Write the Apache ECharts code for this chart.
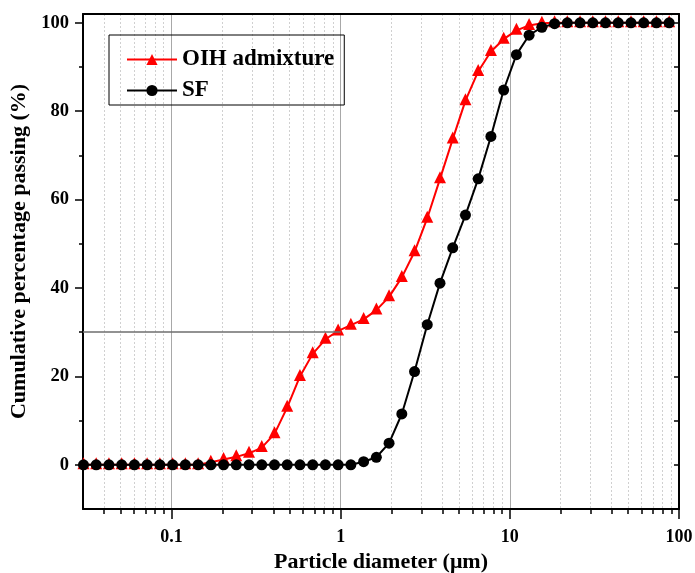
<!DOCTYPE html>
<html>
<head>
<meta charset="utf-8">
<script src="https://cdn.jsdelivr.net/npm/echarts@6/dist/echarts.min.js"></script>
<style>
  html, body { margin: 0; padding: 0; background: #fff; }
  #chart { width: 695px; height: 573px; }
</style>
</head>
<body>
<div id="chart"></div>
<script>
// Particle diameters (µm) of the size classes, quarter-octave spacing
const diameters = [
  0.0302, 0.0359, 0.0427, 0.0508, 0.0604, 0.0718, 0.0854,
  0.1016, 0.1208, 0.1437, 0.1709, 0.2032, 0.2416, 0.2874, 0.3417, 0.4064, 0.4833,
  0.5747, 0.6835, 0.8128, 0.9666, 1.149, 1.367, 1.626, 1.933, 2.299, 2.734,
  3.251, 3.866, 4.598, 5.468, 6.502, 7.733, 9.196, 10.94, 13.00, 15.47,
  18.39, 21.87, 26.01, 30.93, 36.78, 43.74, 52.02, 61.86, 73.56, 87.48
];

// Cumulative percentage passing for each diameter
const oihPassing = [
  0, 0, 0, 0, 0, 0, 0, 0, 0, 0,
  0.6, 1.2, 1.8, 2.6, 3.9, 7.0, 13.0,
  20.0, 25.1, 28.4, 30.3, 31.6, 32.9, 35.0, 38.0, 42.4, 48.2,
  55.8, 64.7, 73.7, 82.4, 89.0, 93.5, 96.3, 98.3, 99.4, 99.9,
  100, 100, 100, 100, 100, 100, 100, 100, 100, 100
];
const sfPassing = [
  0, 0, 0, 0, 0, 0, 0, 0, 0, 0, 0,
  0, 0, 0, 0, 0, 0, 0, 0, 0, 0, 0,
  0.7, 1.7, 4.9, 11.5, 21.1,
  31.7, 41.1, 49.1, 56.5, 64.7, 74.3, 84.8, 92.8, 97.2, 99.0,
  99.8, 100, 100, 100, 100, 100, 100, 100, 100, 100
];

const seriesNames = ['OIH admixture', 'SF'];

// Axis ranges and tick positions
const xMin = 0.03, xMax = 100;
const yMin = -10, yMax = 102;
const xMajorTicks = [0.1, 1, 10, 100];
const xMinorTicks = [
  0.04, 0.05, 0.06, 0.07, 0.08, 0.09,
  0.2, 0.3, 0.4, 0.5, 0.6, 0.7, 0.8, 0.9,
  2, 3, 4, 5, 6, 7, 8, 9,
  20, 30, 40, 50, 60, 70, 80, 90
];
const yMajorTicks = [0, 20, 40, 60, 80, 100];
const yMinorTicks = [10, 30, 50, 70, 90];
const yRightTicks = [0, 10, 20, 30, 40, 50, 60, 70, 80, 90, 100];

// D30 guide: 30 % passing reached at 1 µm
const guideLevel = 30, guideDiameter = 1;

const FONT = '"Liberation Serif", "Times New Roman", serif';
const boldText = (size) => ({ fontFamily: FONT, fontWeight: 'bold', fontSize: size, color: '#000' });

const pairs = (vals) => diameters.map((d, i) => [d, vals[i]]);

const chart = echarts.init(document.getElementById('chart'), null, { renderer: 'canvas' });

chart.setOption({
  animation: false,
  backgroundColor: '#fff',
  grid: { left: 83, right: 16, top: 14, bottom: 64, containLabel: false, outerBoundsMode: 'none' },
  legend: {
    data: seriesNames,
    orient: 'vertical',
    left: 109,
    top: 35,
    itemWidth: 50,
    itemHeight: 14,
    itemGap: 8,
    padding: [13, 10, 3, 17],
    borderColor: '#000',
    borderWidth: 1,
    textStyle: boldText(23)
  },
  xAxis: [
    {
      type: 'log', logBase: 10, min: xMin, max: xMax, position: 'bottom',
      name: 'Particle diameter (\u03bcm)',
      nameLocation: 'middle', nameGap: 42,
      nameTextStyle: boldText(22),
      axisLine: { show: true, onZero: false, lineStyle: { color: '#000', width: 2 } },
      axisTick: { show: true, length: 10, customValues: xMajorTicks, lineStyle: { color: '#000', width: 1.5 } },
      axisLabel: {
        customValues: xMajorTicks, margin: 19, ...boldText(18),
        formatter: (v) => String(+Number(v).toPrecision(3))
      },
      splitLine: { show: true, lineStyle: { color: '#a8a8a8', width: 1 } }
    },
    {
      type: 'log', logBase: 10, min: xMin, max: xMax, position: 'bottom',
      axisLine: { show: false, onZero: false },
      axisTick: { show: true, length: 5, customValues: xMinorTicks, lineStyle: { color: '#000', width: 1.5 } },
      axisLabel: { show: false },
      splitLine: { show: true, lineStyle: { color: '#d0d0d0', width: 1, type: [2, 2] } }
    },
    {
      type: 'log', logBase: 10, min: xMin, max: xMax, position: 'top',
      axisLine: { show: true, onZero: false, lineStyle: { color: '#000', width: 2 } },
      axisTick: { show: false },
      axisLabel: { show: false },
      splitLine: { show: false }
    }
  ],
  yAxis: [
    {
      type: 'value', min: yMin, max: yMax, position: 'left',
      name: 'Cumulative percentage passing (%)',
      nameLocation: 'middle', nameGap: 49, nameRotate: 90,
      nameTextStyle: { ...boldText(22), padding: [0, 0, 0, 20] },
      axisLine: { show: true, onZero: false, lineStyle: { color: '#000', width: 2 } },
      axisTick: { show: true, length: 8, customValues: yMajorTicks, lineStyle: { color: '#000', width: 1.5 } },
      axisLabel: { customValues: yMajorTicks, margin: 14, ...boldText(18.5) },
      splitLine: { show: false }
    },
    {
      type: 'value', min: yMin, max: yMax, position: 'left',
      axisLine: { show: false, onZero: false },
      axisTick: { show: true, length: 4, customValues: yMinorTicks, lineStyle: { color: '#000', width: 1.5 } },
      axisLabel: { show: false },
      splitLine: { show: false }
    },
    {
      type: 'value', min: yMin, max: yMax, position: 'right',
      axisLine: { show: true, onZero: false, lineStyle: { color: '#000', width: 2 } },
      axisTick: { show: true, inside: true, length: 5, customValues: yRightTicks, lineStyle: { color: '#000', width: 1.5 } },
      axisLabel: { show: false },
      splitLine: { show: false }
    }
  ],
  series: [
    {
      name: seriesNames[0],
      type: 'line',
      xAxisIndex: 0, yAxisIndex: 0,
      data: pairs(oihPassing),
      symbol: 'triangle',
      symbolSize: 12,
      symbolOffset: [0, -1.5],
      showAllSymbol: true,
      itemStyle: { color: '#ff0000' },
      lineStyle: { color: '#ff0000', width: 2 },
      markLine: {
        silent: true,
        symbol: 'none',
        label: { show: false },
        lineStyle: { color: '#6e6e6e', width: 1.5, type: 'solid' },
        data: [[{ coord: [xMin, guideLevel] }, { coord: [guideDiameter, guideLevel] }]]
      },
      z: 3
    },
    {
      name: seriesNames[1],
      type: 'line',
      xAxisIndex: 0, yAxisIndex: 0,
      data: pairs(sfPassing),
      symbol: 'circle',
      symbolSize: 11,
      showAllSymbol: true,
      itemStyle: { color: '#000' },
      lineStyle: { color: '#000', width: 2 },
      z: 4
    }
  ]
});
</script>
</body>
</html>
